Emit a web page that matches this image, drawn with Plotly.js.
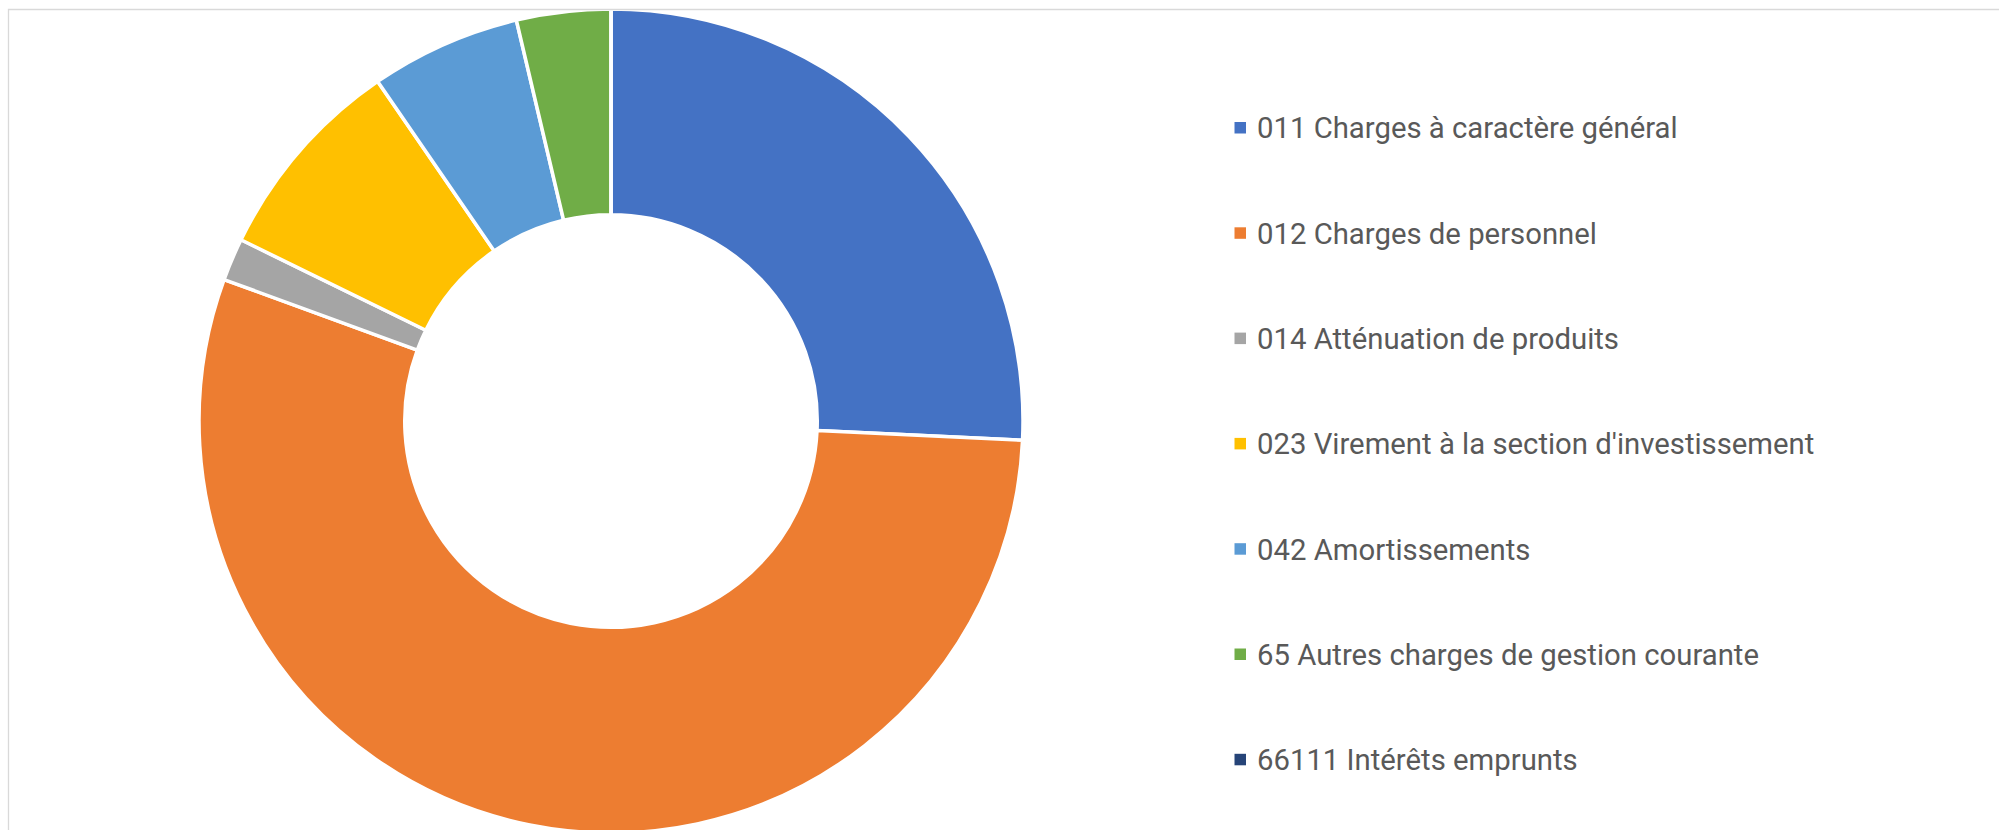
<!DOCTYPE html>
<html>
<head>
<meta charset="utf-8">
<script src="https://cdn.plot.ly/plotly-3.0.1.min.js"></script>
<style>
html, body { margin: 0; padding: 0; background: #ffffff; overflow: hidden; }
#chart { width: 1999px; height: 850px; }
</style>
</head>
<body>
<div id="chart"></div>
<script>
// ---- data ----
const categories = [
  "011 Charges à caractère général",
  "012 Charges de personnel",
  "014 Atténuation de produits",
  "023 Virement à la section d'investissement",
  "042 Amortissements",
  "65 Autres charges de gestion courante",
  "66111 Intérêts emprunts"
];
const shares = [25.74, 54.83, 1.67, 8.17, 5.89, 3.69, 0];
const sliceColors = ["#4472C4", "#ED7D31", "#A5A5A5", "#FFC000", "#5B9BD5", "#70AD47", "#264478"];

// ---- layout helpers (pixel -> paper) ----
const W = 1999, H = 850;
const px = x => x / W;
const py = y => 1 - y / H;

const cx = 611, cy = 421, R = 412;

const trace = {
  type: "pie",
  labels: categories,
  values: shares,
  sort: false,
  direction: "clockwise",
  rotation: 0,
  hole: 0.5006,
  textinfo: "none",
  hoverinfo: "label+percent",
  marker: { colors: sliceColors, line: { color: "#ffffff", width: 3.5 } },
  domain: { x: [px(cx - R), px(cx + R)], y: [py(cy + R), py(cy - R)] },
  showlegend: false
};

const shapes = [{
  type: "rect", xref: "paper", yref: "paper",
  x0: px(8.5), x1: 1.05, y0: -0.05, y1: py(9.5),
  line: { color: "#D9D9D9", width: 1.3 }, fillcolor: "rgba(0,0,0,0)", layer: "above"
}];
const annotations = [];
const rowTop = 127.5, rowStep = 105.3;
categories.forEach((c, i) => {
  const y = rowTop + i * rowStep;
  shapes.push({
    type: "rect", xref: "paper", yref: "paper",
    x0: px(1234.5), x1: px(1246), y0: py(y + 6), y1: py(y - 5.5),
    fillcolor: sliceColors[i], line: { width: 0 }
  });
  annotations.push({
    xref: "paper", yref: "paper", x: px(1255), y: py(y + 1),
    xanchor: "left", yanchor: "middle", showarrow: false,
    text: c, font: { family: "Roboto, sans-serif", size: 29.3, color: "#595959" }
  });
});

const layout = {
  width: W, height: H,
  margin: { l: 0, r: 0, t: 0, b: 0 },
  paper_bgcolor: "#ffffff",
  plot_bgcolor: "#ffffff",
  showlegend: false,
  shapes: shapes,
  annotations: annotations
};

Plotly.newPlot("chart", [trace], layout, { displayModeBar: false, staticPlot: true });
</script>
</body>
</html>
